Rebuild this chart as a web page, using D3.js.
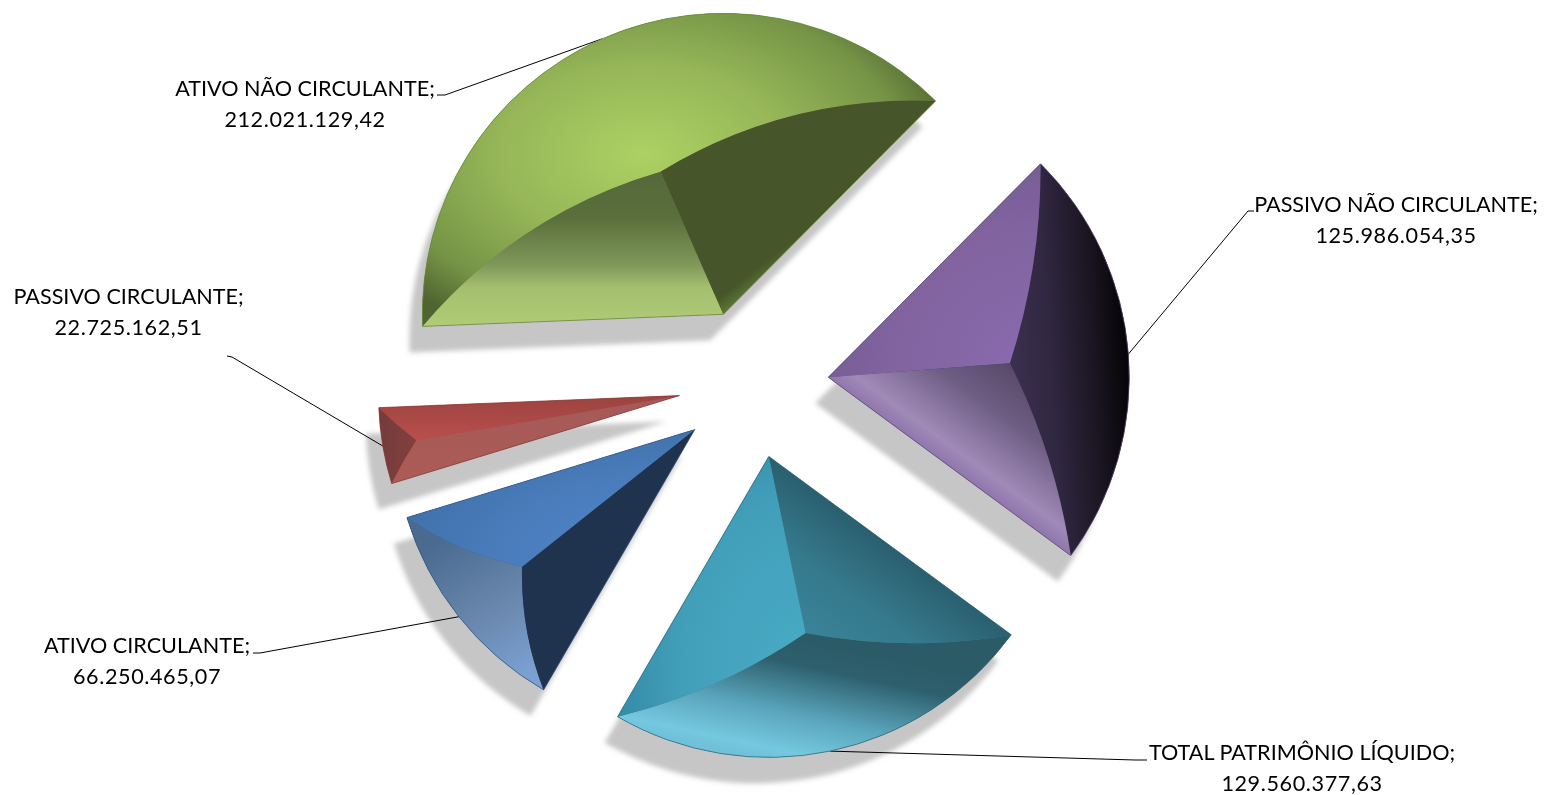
<!DOCTYPE html>
<html lang="pt">
<head>
<meta charset="utf-8">
<title>Balanço patrimonial</title>
<script src="https://cdn.jsdelivr.net/npm/d3@7"></script>
<style>
html,body{margin:0;padding:0;background:#fff;}
svg{display:block;}
text{font-family:Lato,"Open Sans",sans-serif;font-size:21.6px;fill:#000;}
.val{letter-spacing:.6px;}
</style>
</head>
<body>
<svg id="chart" width="1544" height="795"></svg>
<script>
// ---- data ----
const categories = ["ATIVO NÃO CIRCULANTE;","PASSIVO NÃO CIRCULANTE;","TOTAL PATRIMÔNIO LÍQUIDO;","ATIVO CIRCULANTE;","PASSIVO CIRCULANTE;"];
const values = [212021129.42,125986054.35,129560377.63,66250465.07,22725162.51];
const valueLabels = ["212.021.129,42","125.986.054,35","129.560.377,63","66.250.465,07","22.725.162,51"];

// ---- layout ----
const W = 1544, H = 795;
const center = [753.5,383], radius = 301, explosion = 75;
const firstAngleDeg = 267.7;
const shadowOffset = [-13,26];
const labelCenters = [[305,88],[1396,204],[1302,752],[147,645],[128.5,296]];
const labelLineGap = 31;
const leaderStarts = [[[437,95],[445,95]],[[1254,211],[1248,211]],[[1147,760],[1135,760]],[[253,653],[260,653]],[[227,356],[232,357]]];
const bevelBulge = [0.15,0.08,0.09,0.10,0.03];
const outlineColors = ["#6a8a3e","#5e4a78","#2c6a7c","#35587f","#8a3c3a"];
const baseColors = ["#6f8a45","#4a3a60","#357f94","#3a5a85","#a34a48"];

// gradients: [kind, geometry (bounding-box fractions), stops]
const outerFacet = [
 ["r",[.43,.45,.63],[[0,"#add163"],[.45,"#96b658"],[.8,"#769446"],[1,"#4f6430"]]],
 ["l",[0,.6,1,.4],[[0,"#3c3050"],[.35,"#302741"],[.72,"#19141f"],[.95,"#060508"],[1,"#060508"]]],
 ["l",[.62,.15,.14,.86],[[0,"#2c5b68"],[.2,"#2d5f6d"],[.6,"#5aa5bc"],[.9,"#74c8e0"],[1,"#6fc0d8"]]],
 ["l",[.3,.1,.72,1],[[0,"#4a6a90"],[.55,"#6a88ae"],[1,"#7ba1d3"]]],
 ["l",[0,0,1,0],[[0,"#743c3c"],[1,"#833f3e"]]]
];
const startFacet = [
 ["l",[.5,0,.5,1],[[0,"#55683a"],[.3,"#5a6f3c"],[.6,"#7f9758"],[.75,"#a5bf70"],[1,"#b0cc75"]]],
 ["r",[.95,.95,1.1],[[0,"#8a6aae"],[.6,"#80639f"],[1,"#745a92"]]],
 ["l",[.15,.95,.553,.525],[[0,"#3a8398"],[.5,"#35798c"],[1,"#2a5f6f"]]],
 ["l",[.1,.1,.75,.55],[[0,"#1f334f"],[.92,"#1f334f"],[1,"#2c4668"]]],
 ["l",[.1,.1,.2,1],[[0,"#a55a58"],[1,"#ad5b57"]]]
];
const endFacet = [
 ["l",[.1,.1,.62,.62],[[0,"#47562a"],[.9,"#47562a"],[1,"#5e7a38"]]],
 ["l",[.75,0,.366,.417],[[0,"#584868"],[.4,"#6f5e84"],[.85,"#a08ab8"],[1,"#8f76ac"]]],
 ["r",[.95,.78,1.1],[[0,"#48aac4"],[.55,"#429fba"],[1,"#2f84a0"]]],
 ["r",[.95,.95,1.05],[[0,"#5287cd"],[.6,"#4a7cbc"],[1,"#3f70a8"]]],
 ["l",[.5,0,.45,1],[[0,"#9c4341"],[1,"#b94f4b"]]]
];

// ---- build ----
const svg = d3.select("#chart");
const defs = svg.append("defs");
const blur = defs.append("filter").attr("id","soft").attr("x","-20%").attr("y","-20%").attr("width","140%").attr("height","140%");
blur.append("feGaussianBlur").attr("stdDeviation",2.4);

const rad = d => d*Math.PI/180;
const pie = d3.pie().sort(null).startAngle(rad(firstAngleDeg)).endAngle(rad(firstAngleDeg+360));
const arcs = pie(values);
const arcGen = d3.arc().innerRadius(0).outerRadius(radius);
const dir = a => [Math.sin(a),-Math.cos(a)];

function gradient(id,spec){
  const [kind,g,stops] = spec;
  const el = kind==="l"
    ? defs.append("linearGradient").attr("id",id).attr("x1",g[0]).attr("y1",g[1]).attr("x2",g[2]).attr("y2",g[3])
    : defs.append("radialGradient").attr("id",id).attr("cx",g[0]).attr("cy",g[1]).attr("r",g[2]);
  el.selectAll("stop").data(stops).join("stop").attr("offset",d=>d[0]).attr("stop-color",d=>d[1]);
  return `url(#${id})`;
}

const slices = arcs.map((d,i)=>{
  const mid = (d.startAngle+d.endAngle)/2, half = (d.endAngle-d.startAngle)/2;
  const u = dir(mid);
  const apex = [center[0]+explosion*u[0], center[1]+explosion*u[1]];
  const at = (a,r)=>{const v=dir(a);return [apex[0]+r*v[0],apex[1]+r*v[1]];};
  const ridge = at(mid, radius/(1+Math.sin(half)));      // centre of the sector's incircle
  const cs = at(d.startAngle,radius), ce = at(d.endAngle,radius);
  const ctrl = (p,q)=>{
    const mx=(p[0]+q[0])/2,my=(p[1]+q[1])/2,dx=q[0]-p[0],dy=q[1]-p[1];
    let nx=-dy,ny=dx; if(nx*(mx-apex[0])+ny*(my-apex[1])<0){nx=-nx;ny=-ny;}
    return [mx+bevelBulge[i]*nx,my+bevelBulge[i]*ny];
  };
  return {d,i,mid,apex,ridge,cs,ce,c1:ctrl(ridge,cs),c2:ctrl(ridge,ce),tip:at(mid,radius)};
});

// shadows
svg.append("g").attr("filter","url(#soft)").selectAll("path").data(slices).join("path")
  .attr("transform",s=>`translate(${s.apex[0]+shadowOffset[0]},${s.apex[1]+shadowOffset[1]})`)
  .attr("d",s=>arcGen(s.d)).attr("fill","#c6c6c6");

// leader lines
svg.append("g").selectAll("path").data(slices).join("path")
  .attr("d",s=>d3.line()([...leaderStarts[s.i],s.tip]))
  .attr("fill","none").attr("stroke","#000").attr("stroke-width",1);

// slices
const g = svg.append("g").selectAll("g").data(slices).join("g");
g.append("path").attr("d",s=>arcGen(s.d)).attr("transform",s=>`translate(${s.apex})`).attr("fill",s=>baseColors[s.i]);

function facetOuter(s){
  const p=d3.path();
  p.moveTo(...s.cs);
  p.arc(s.apex[0],s.apex[1],radius,s.d.startAngle-Math.PI/2,s.d.endAngle-Math.PI/2,false);
  p.quadraticCurveTo(s.c2[0],s.c2[1],s.ridge[0],s.ridge[1]);
  p.quadraticCurveTo(s.c1[0],s.c1[1],s.cs[0],s.cs[1]);
  p.closePath();return p.toString();
}
function facetSide(s,corner,c){
  const p=d3.path();
  p.moveTo(...s.apex);p.lineTo(...corner);
  p.quadraticCurveTo(c[0],c[1],s.ridge[0],s.ridge[1]);
  p.closePath();return p.toString();
}
g.append("path").attr("d",facetOuter).attr("fill",s=>gradient("o"+s.i,outerFacet[s.i]));
g.append("path").attr("d",s=>facetSide(s,s.cs,s.c1)).attr("fill",s=>gradient("s"+s.i,startFacet[s.i]));
g.append("path").attr("d",s=>facetSide(s,s.ce,s.c2)).attr("fill",s=>gradient("e"+s.i,endFacet[s.i]));
g.append("path").attr("d",s=>arcGen(s.d)).attr("transform",s=>`translate(${s.apex})`)
  .attr("fill","none").attr("stroke",s=>outlineColors[s.i]).attr("stroke-width",1).attr("stroke-opacity",.75);

// labels
const lab = svg.append("g").selectAll("text").data(slices).join("text")
  .attr("text-anchor","middle")
  .attr("transform",s=>`translate(${labelCenters[s.i][0]},${labelCenters[s.i][1]+7.5})`);
lab.append("tspan").attr("x",0).attr("y",0).text(s=>categories[s.i]);
lab.append("tspan").attr("class","val").attr("x",0).attr("y",labelLineGap).text(s=>valueLabels[s.i]);
</script>
</body>
</html>
